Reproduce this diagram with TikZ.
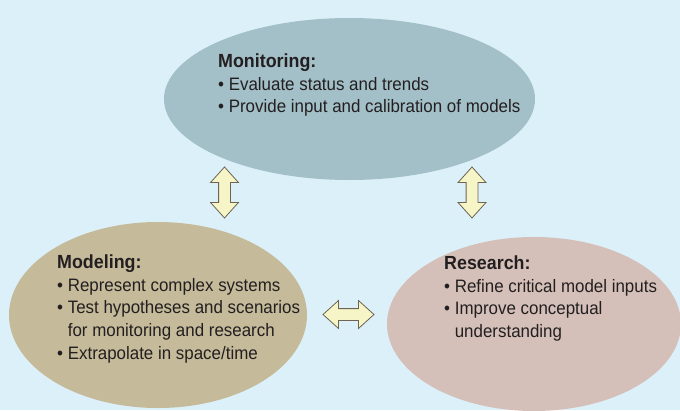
\documentclass[tikz,border=0pt]{standalone}
\usepackage{fontspec}
\setmainfont[FakeStretch=0.94]{Liberation Sans}
\usetikzlibrary{shapes.geometric,shapes.arrows}
\definecolor{skyback}{RGB}{220,240,250}
\definecolor{moncol}{RGB}{163,191,199}
\definecolor{modcol}{RGB}{197,186,154}
\definecolor{rescol}{RGB}{212,192,184}
\definecolor{arrowfill}{RGB}{245,245,200}
\definecolor{arrowline}{RGB}{110,100,80}
\definecolor{inktext}{RGB}{35,31,32}
\tikzset{
  blob/.style={ellipse,inner sep=0pt},
  notes/.style={anchor=north west,align=left,inner sep=0pt,text=inktext,
    font=\fontsize{18}{22.7}\selectfont},
  link/.style={double arrow,draw=arrowline,fill=arrowfill,line width=0.8pt,
    minimum height=51pt,minimum width=27pt,double arrow head extend=8pt,
    double arrow tip angle=84,inner xsep=0pt,inner ysep=5.5pt}
}
\newcommand{\heading}[1]{{\fontsize{19}{22.7}\selectfont\bfseries #1}}
\newcommand{\hang}{\phantom{\textbullet\ }}
\begin{document}
\begin{tikzpicture}[x=1pt,y=-1pt]
  \useasboundingbox (0,0) rectangle (680,410);
  \clip (0,0) rectangle (680,410);
  \fill[skyback] (0,0) rectangle (680,410);
  % the three fields
  \node[blob,fill=moncol,minimum width=371pt,minimum height=162pt] (mon) at (349.5,99) {};
  \node[blob,fill=modcol,minimum width=298pt,minimum height=186pt] (mod) at (158,315) {};
  \node[blob,fill=rescol,minimum width=294pt,minimum height=174pt] (res) at (534,324) {};
  \node[notes] (montext) at (218,53.5) {\heading{Monitoring:}\\
    \textbullet\ Evaluate status and trends\\
    \textbullet\ Provide input and calibration of models};
  \node[notes] (modtext) at (57,254.5) {\heading{Modeling:}\\
    \textbullet\ Represent complex systems\\
    \textbullet\ Test hypotheses and scenarios\\
    \hang for monitoring and research\\
    \textbullet\ Extrapolate in space/time};
  \node[notes] (restext) at (444,255.5) {\heading{Research:}\\
    \textbullet\ Refine critical model inputs\\
    \textbullet\ Improve conceptual\\
    \hang understanding};
  % links between them
  \node[link,rotate=90] (upleft) at (224.5,192.5) {};
  \node[link,rotate=90] (upright) at (472,192.5) {};
  \node[link] (across) at (348.5,314.5) {};
\end{tikzpicture}
\end{document}
